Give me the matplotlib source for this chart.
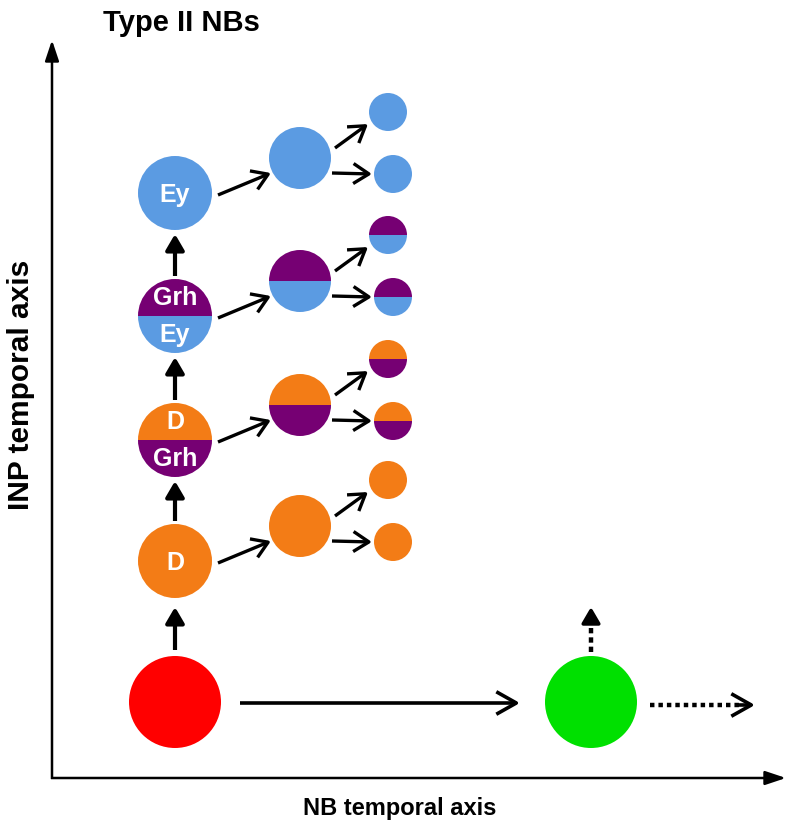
import matplotlib
matplotlib.use("Agg")
import matplotlib.pyplot as plt
from matplotlib.patches import Circle, Wedge, FancyArrowPatch

plt.rcParams["font.family"] = ["Liberation Sans", "DejaVu Sans"]

# colours
blue = "#5b9be2"
purple = "#760073"
orange = "#f37c16"
red = "#ff0000"
green = "#00e000"

# INP stages, bottom to top
stage_top = ["D", "D", "Grh", "Ey"]
stage_bottom = ["D", "Grh", "Ey", "Ey"]
stage_top_color = [orange, orange, purple, blue]
stage_bottom_color = [orange, purple, blue, blue]

title = "Type II NBs"
xlabel = "NB temporal axis"
ylabel = "INP temporal axis"

# layout (pixel-like units, y grows downward)
W, H = 800, 835
col_x = [175, 300, 390]
row_y = [561, 440, 316, 193]
r1, r2, r3 = 37, 31, 19

fig = plt.figure(figsize=(W / 100, H / 100), dpi=100)
ax = fig.add_axes([0, 0, 1, 1])
ax.set_xlim(0, W)
ax.set_ylim(H, 0)
ax.set_aspect("equal")
ax.axis("off")


def cell(x, y, r, ctop, cbot):
    if ctop == cbot:
        ax.add_patch(Circle((x, y), r, color=ctop, lw=0))
    else:
        # y axis inverted: 180-360 is the upper half on screen
        ax.add_patch(Wedge((x, y), r, 180, 360, color=ctop, lw=0))
        ax.add_patch(Wedge((x, y), r, 0, 180, color=cbot, lw=0))


def arrow(p0, p1, style="->", lw=2.4, ms=14):
    ax.add_patch(FancyArrowPatch(p0, p1, arrowstyle=style, mutation_scale=ms,
                                 lw=lw, color="black",
                                 shrinkA=0, shrinkB=0, capstyle="butt"))


# axes of the diagram
arrow((52, 779), (52, 40), style="-|>,head_length=0.9,head_width=0.3", lw=1.8, ms=14)
arrow((51, 778), (786, 778), style="-|>,head_length=0.9,head_width=0.3", lw=1.8, ms=14)

ax.text(181, 23, title, ha="center", va="center", fontsize=21, fontweight="bold")
ax.text(400, 808, xlabel, ha="center", va="center", fontsize=17, fontweight="bold")
ax.text(21, 385, ylabel, ha="center", va="center", fontsize=21.5, fontweight="bold",
        rotation=90)

# NBs
cell(175, 702, 46, red, red)
cell(591, 702, 46, green, green)
arrow((240, 703), (520, 703), style="->,head_length=0.8,head_width=0.45", lw=2.6, ms=18)

# dotted arrows: dotted shaft + solid head
ax.plot([650, 742], [705, 705], color="black", lw=3.2, ls=(0, (1, 0.9)),
        solid_capstyle="butt", dash_capstyle="butt")
arrow((738, 705), (755, 705), style="->,head_length=0.8,head_width=0.45", lw=2.6, ms=18)
ax.plot([591, 591], [652, 620], color="black", lw=3.2, ls=(0, (1.2, 0.9)),
        dash_capstyle="butt")
arrow((591, 624), (591, 607), style="-|>,head_length=0.6,head_width=0.35", lw=2.6, ms=16)

arrow((175, 650), (175, 607), style="-|>,head_length=0.6,head_width=0.35", lw=3, ms=16)

for i in range(len(stage_top)):
    y = row_y[i]
    ct, cb = stage_top_color[i], stage_bottom_color[i]
    cell(col_x[0], y, r1, ct, cb)
    if stage_top[i] == stage_bottom[i]:
        ax.text(col_x[0], y + 2, stage_top[i], color="white", ha="center", va="center",
                fontsize=18, fontweight="bold")
    else:
        ax.text(col_x[0], y - 18, stage_top[i], color="white", ha="center", va="center",
                fontsize=18, fontweight="bold")
        ax.text(col_x[0], y + 19, stage_bottom[i], color="white", ha="center", va="center",
                fontsize=18, fontweight="bold")
    # GMC
    gy = y - 35
    cell(col_x[1], gy, r2, ct, cb)
    arrow((218, y + 2), (271, y - 20), style="->,head_length=0.7,head_width=0.45", lw=2.4, ms=16)
    # neurons
    cell(col_x[2] - 2, y - 81, r3, ct, cb)
    cell(col_x[2] + 3, y - 19, r3, ct, cb)
    arrow((335, gy - 10), (368, y - 69), style="->,head_length=0.7,head_width=0.45", lw=2.4, ms=16)
    arrow((332, y - 20), (372, y - 19), style="->,head_length=0.7,head_width=0.45", lw=2.4, ms=16)
    # up arrow to next stage
    if i < len(stage_top) - 1:
        arrow((175, y - 40), (175, row_y[i + 1] + 41),
              style="-|>,head_length=0.6,head_width=0.35", lw=3, ms=16)

fig.savefig("out.png", dpi=100)
